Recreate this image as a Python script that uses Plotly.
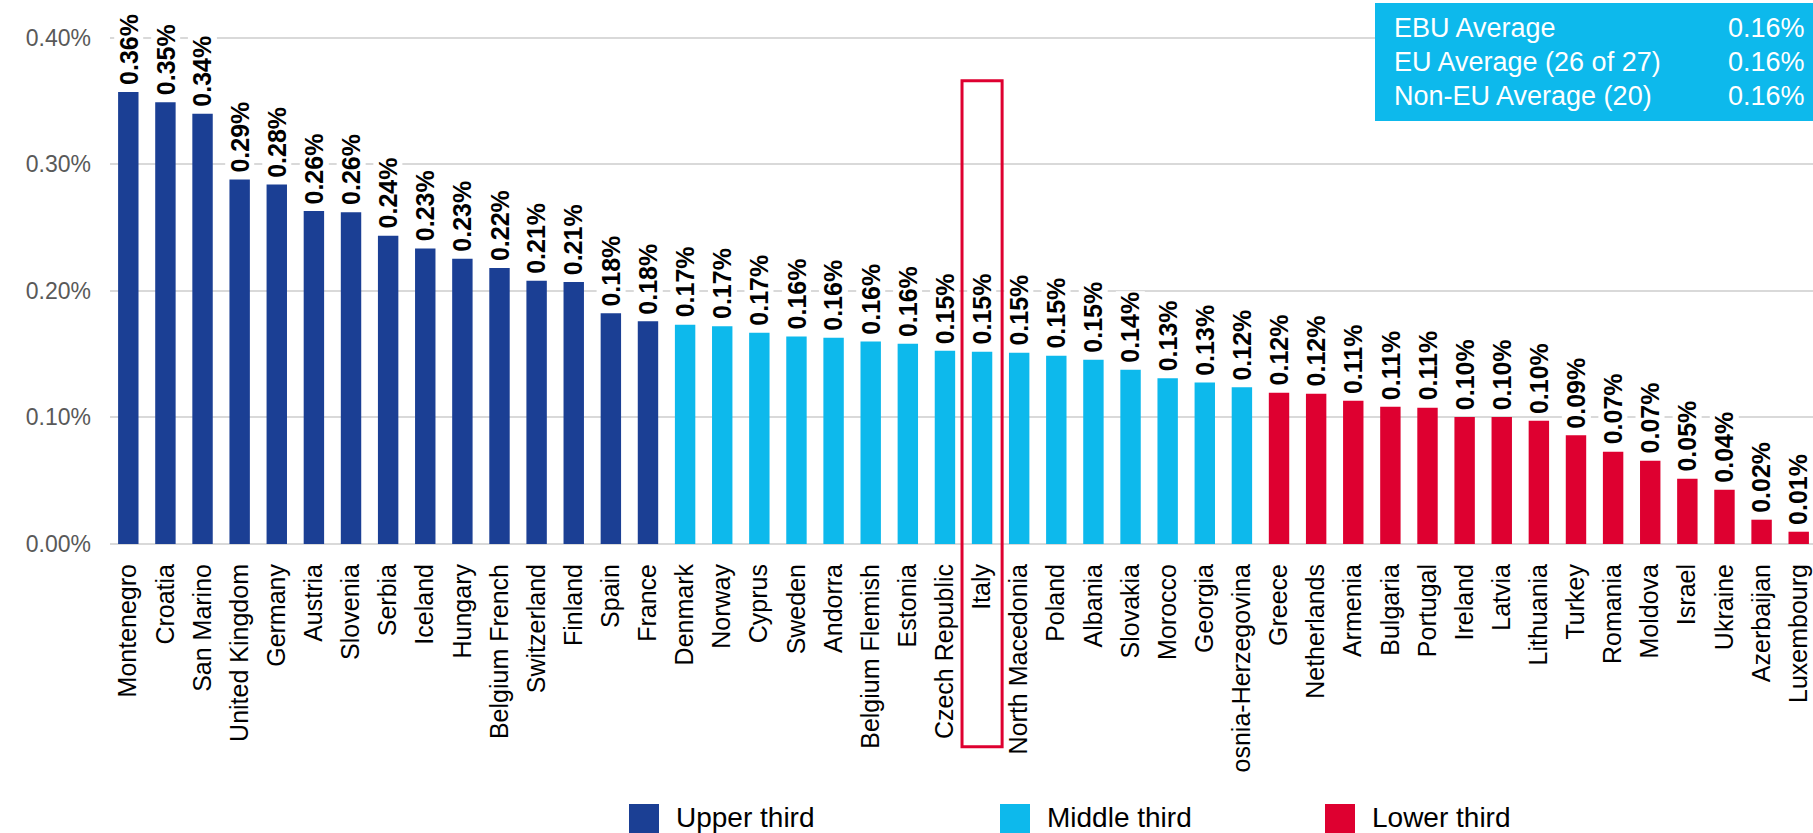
import plotly.graph_objects as go

# ---------------- data ----------------
countries = [
    "Montenegro", "Croatia", "San Marino", "United Kingdom", "Germany", "Austria",
    "Slovenia", "Serbia", "Iceland", "Hungary", "Belgium French", "Switzerland",
    "Finland", "Spain", "France",
    "Denmark", "Norway", "Cyprus", "Sweden", "Andorra", "Belgium Flemish", "Estonia",
    "Czech Republic", "Italy", "North Macedonia", "Poland", "Albania", "Slovakia",
    "Morocco", "Georgia", "osnia-Herzegovina",
    "Greece", "Netherlands", "Armenia", "Bulgaria", "Portugal", "Ireland", "Latvia",
    "Lithuania", "Turkey", "Romania", "Moldova", "Israel", "Ukraine", "Azerbaijan",
    "Luxembourg",
]
values = [
    0.357, 0.349, 0.340, 0.288, 0.284, 0.263,
    0.262, 0.2435, 0.2335, 0.2253, 0.218, 0.208,
    0.207, 0.1823, 0.176,
    0.1732, 0.172, 0.1668, 0.164, 0.163, 0.160, 0.1582,
    0.1526, 0.1518, 0.151, 0.1487, 0.1456, 0.1377,
    0.131, 0.1276, 0.1239,
    0.1194, 0.1187, 0.1131, 0.1084, 0.1076, 0.1003, 0.1003,
    0.0974, 0.086, 0.0729, 0.0658, 0.0516, 0.0429, 0.0192,
    0.0097,
]
tiers = ["Upper third"] * 15 + ["Middle third"] * 16 + ["Lower third"] * 15
tier_names = ["Upper third", "Middle third", "Lower third"]
tier_colors = {"Upper third": "#1B3F94", "Middle third": "#0DB9EC", "Lower third": "#DE0030"}

highlight = "Italy"

avg_labels = ["EBU Average", "EU Average (26 of 27)", "Non-EU Average (20)"]
avg_values = ["0.16%", "0.16%", "0.16%"]

y_ticks = [0.0, 0.1, 0.2, 0.3, 0.4]
y_ticktext = ["0.00%", "0.10%", "0.20%", "0.30%", "0.40%"]

# ---------------- layout geometry ----------------
W, H = 1813, 833
ML, MR, MT, MB = 110, 0, 35, 289
PW, PH = W - ML - MR, H - MT - MB
FONT = "Liberation Sans, Arial, sans-serif"


def px_x(px):
    return (px - ML) / PW


def px_y(py):
    return (H - MB - py) / PH


fig = go.Figure()
for t in tier_names:
    xs = [c for c, tt in zip(countries, tiers) if tt == t]
    ys = [v for v, tt in zip(values, tiers) if tt == t]
    fig.add_trace(go.Bar(
        x=xs, y=ys, name=t, marker=dict(color=tier_colors[t], line=dict(width=0)),
        width=0.55, showlegend=False, hoverinfo="x+y",
    ))

# value labels (white backed, rotated)
for c, v in zip(countries, values):
    fig.add_annotation(
        x=c, y=v, xref="x", yref="y", text=f"<b>{v:.2f}%</b>", showarrow=False,
        textangle=-90, xanchor="center", yanchor="bottom", yshift=6,
        font=dict(family=FONT, size=25, color="#000000"),
        bgcolor="#FFFFFF", borderpad=0,
    )

# highlight box around Italy
idx = countries.index(highlight)
fig.add_shape(
    type="rect", xref="x", yref="paper",
    x0=idx - 0.54, x1=idx + 0.54, y0=px_y(746.7), y1=px_y(80.7),
    line=dict(color="#DE0030", width=3), fillcolor="rgba(0,0,0,0)", layer="above",
)

# averages box
fig.add_shape(
    type="rect", xref="paper", yref="paper",
    x0=px_x(1375), x1=1.0, y0=px_y(121), y1=px_y(3),
    line=dict(width=0), fillcolor="#0DB9EC", layer="above",
)
for i, (lab, val) in enumerate(zip(avg_labels, avg_values)):
    yc = px_y(28 + i * 34)
    fig.add_annotation(x=px_x(1392), y=yc, xref="paper", yref="paper", text=lab,
                       showarrow=False, xanchor="left", yanchor="middle",
                       font=dict(family=FONT, size=27, color="#FFFFFF"))
    fig.add_annotation(x=px_x(1807), y=yc, xref="paper", yref="paper", text=val,
                       showarrow=False, xanchor="right", yanchor="middle",
                       font=dict(family=FONT, size=27, color="#FFFFFF"))

# manual legend
leg_x = [629, 1000, 1325]
for t, lx in zip(tier_names, leg_x):
    fig.add_shape(type="rect", xref="paper", yref="paper",
                  x0=px_x(lx), x1=px_x(lx + 30), y0=px_y(834), y1=px_y(804),
                  line=dict(width=0), fillcolor=tier_colors[t])
    fig.add_annotation(x=px_x(lx + 45), y=px_y(817), xref="paper", yref="paper",
                       text=t, showarrow=False, xanchor="left", yanchor="middle",
                       font=dict(family=FONT, size=28, color="#000000"))

fig.update_layout(
    width=W, height=H,
    margin=dict(l=ML, r=MR, t=MT, b=MB, autoexpand=False),
    paper_bgcolor="#FFFFFF", plot_bgcolor="#FFFFFF",
    barmode="relative", showlegend=False,
    font=dict(family=FONT),
)
fig.update_xaxes(
    type="category", categoryorder="array", categoryarray=countries,
    range=[-0.493, 45.385], tickangle=-90, ticks="", showgrid=False,
    showline=False, ticklabelstandoff=14,
    tickfont=dict(family=FONT, size=25, color="#000000"),
)
fig.update_yaxes(
    range=[0, 0.40213], tickvals=y_ticks, ticktext=y_ticktext,
    showgrid=True, gridcolor="#D9D9D9", gridwidth=2,
    zeroline=True, zerolinecolor="#D9D9D9", zerolinewidth=2,
    showline=False, ticks="", ticklabelstandoff=18,
    tickfont=dict(family=FONT, size=23, color="#595959"),
)

fig.write_html("out.html")
